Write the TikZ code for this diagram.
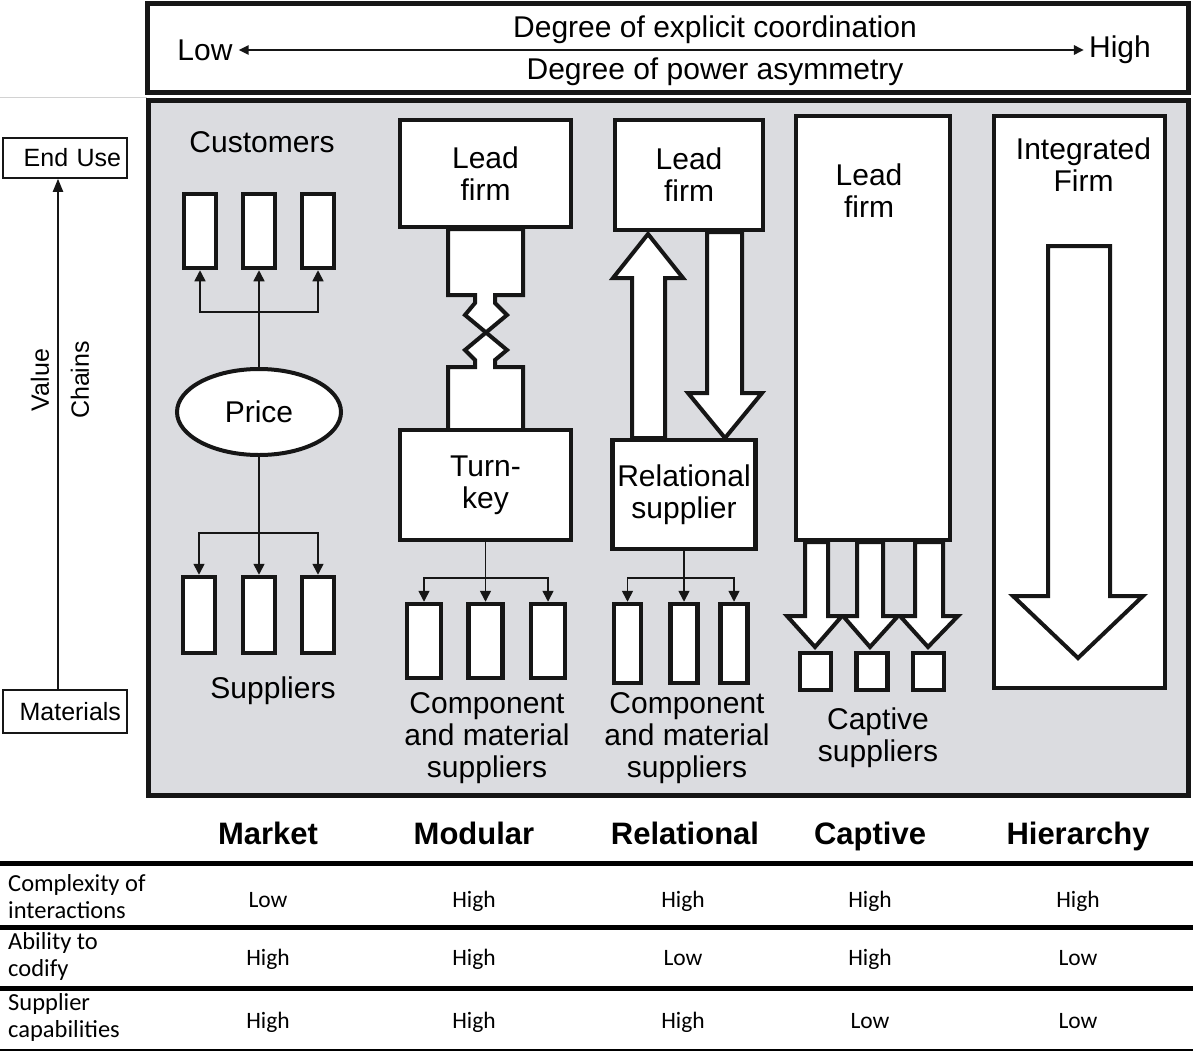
\documentclass[tikz,border=0pt]{standalone}
\usepackage{fontspec}
\setmainfont{Liberation Sans}
\newfontfamily\tablefont{Carlito}
\usetikzlibrary{arrows.meta,positioning,shapes.geometric}
\definecolor{panelgray}{RGB}{219,220,224}
\definecolor{ink}{RGB}{22,22,22}

\begin{document}
\begin{tikzpicture}[x=1pt, y=-1pt, line join=miter,
    firm node/.style={draw=ink, line width=4.5pt, fill=white, inner sep=0pt, align=center, font=\fontsize{30}{32}\selectfont},
    slot node/.style={draw=ink, line width=4.5pt, fill=white, inner sep=0pt},
    word/.style={inner sep=0pt, align=center, font=\fontsize{30}{32}\selectfont},
    side/.style={inner sep=0pt, font=\fontsize{25}{27}\selectfont},
    feed/.style={draw=ink, line width=1.6pt, -{Triangle[length=11pt,width=11pt]}},
    fat arrow/.style={draw=ink, line width=4pt, fill=white},
    head/.style={inner sep=0pt, anchor=base, font=\fontsize{31}{33}\selectfont\bfseries},
    cell/.style={inner sep=0pt, anchor=base, font=\tablefont\fontsize{23.5}{28}\selectfont},
    rowname/.style={inner sep=0pt, anchor=west, align=left, font=\tablefont\fontsize{24.5}{27}\selectfont}]
    \useasboundingbox (0,0) rectangle (1193,1052);

    % frames
    \draw[gray!35, line width=1pt] (0,97) -- (147,97);
    \node[draw=ink, line width=5pt, fill=white, minimum width=1041pt, minimum height=89pt, inner sep=0pt] (banner) at (667.5,47.5) {};
    \node[draw=ink, line width=5pt, fill=panelgray, minimum width=1040pt, minimum height=695pt, inner sep=0pt] (panel) at (668,447.5) {};

    % coordination scale
    \node[word] (low) at (205,50) {Low};
    \node[word] (high) at (1120,50) {High};
    \node[word] (coord) at (715,30) {Degree of explicit coordination};
    \node[word] (power) at (715,72) {Degree of power asymmetry};
    \draw[ink, line width=2.5pt, {Triangle[length=10pt,width=9pt]}-{Triangle[length=10pt,width=9pt]}] ([xshift=6pt]low.east) -- ([xshift=-5pt]high.west);

    % value chain axis
    \node[side, draw=ink, line width=1.5pt, fill=white, minimum width=124pt, minimum height=40pt, text width=112pt, align=right] (enduse) at (65,158) {End Use};
    \node[side, draw=ink, line width=1.5pt, fill=white, minimum width=124pt, minimum height=43pt, text width=112pt, align=right] (materials) at (65,711.5) {Materials};
    \coordinate (axis) at (58,0);
    \draw[ink, line width=2pt, -{Triangle[length=13pt,width=10pt]}] (materials.north -| axis) -- (enduse.south -| axis);
    \node[side, rotate=90] (value) at (40,380) {Value};
    \node[side, rotate=90] (chains) at (80,380) {Chains};

    % market
    \node[word] (cust) at (262,142) {Customers};
    \node[slot node, minimum width=32pt, minimum height=74pt] (c1) at (200,231) {};
    \node[slot node, minimum width=32pt, minimum height=74pt] (c2) at (259,231) {};
    \node[slot node, minimum width=32pt, minimum height=74pt] (c3) at (318,231) {};
    \node[word, ellipse, draw=ink, line width=4pt, fill=white, minimum width=164pt, minimum height=86pt] (price) at (259,412) {Price};
    \node[slot node, minimum width=32pt, minimum height=76pt] (s1) at (199,615) {};
    \node[slot node, minimum width=32pt, minimum height=76pt] (s2) at (259,615) {};
    \node[slot node, minimum width=32pt, minimum height=76pt] (s3) at (318,615) {};
    \node[word] (sup) at (273,691) {Suppliers};
    \coordinate (mtop) at (259,312);
    \coordinate (mbot) at (259,533);
    \draw[feed] (price) -- (c2);
    \draw[feed] (mtop) -| (c1.south);
    \draw[feed] (mtop) -| (c3.south);
    \draw[feed] (price) -- (s2);
    \draw[feed] (mbot) -| (s1.north);
    \draw[feed] (mbot) -| (s3.north);

    % modular
    \draw[fat arrow] (448,229) -- (448,295) -- (475,295) -- (475,303) -- (465,315) -- (507,350)
        -- (495,360) -- (495,367) -- (523,367) -- (523,430) -- (448,430) -- (448,367) -- (475,367)
        -- (475,360) -- (465,350) -- (507,315) -- (495,303) -- (495,295) -- (523,295) -- (523,229) -- cycle;
    \node[firm node, minimum width=171pt, minimum height=107pt] (lead1) at (485.5,173.5) {Lead\\firm};
    \node[firm node, minimum width=171pt, minimum height=110pt] (turn) at (485.5,485) {Turn-\\key};
    \node[slot node, minimum width=34pt, minimum height=74pt] (m1) at (424,641) {};
    \node[slot node, minimum width=34pt, minimum height=74pt] (m2) at (485.5,641) {};
    \node[slot node, minimum width=34pt, minimum height=74pt] (m3) at (548,641) {};
    \coordinate (modfork) at (485.5,578);
    \draw[feed] (turn) -- (m2);
    \draw[feed] (modfork) -| (m1.north);
    \draw[feed] (modfork) -| (m3.north);
    \node[word] (modsup) at (487,738) {Component\\and material\\suppliers};

    % relational
    \draw[fat arrow] (632,438) -- (632,278) -- (613,278) -- (648,234) -- (683,278) -- (665,278) -- (665,438) -- cycle;
    \draw[fat arrow] (707,232) -- (707,393) -- (688,393) -- (725,438) -- (762,393) -- (742,393) -- (742,232) -- cycle;
    \node[firm node, minimum width=148pt, minimum height=110pt] (lead2) at (689,175) {Lead\\firm};
    \node[firm node, minimum width=143pt, minimum height=109pt] (rel) at (684,494.5) {Relational\\supplier};
    \node[slot node, minimum width=27pt, minimum height=79pt] (r1) at (627.5,643.5) {};
    \node[slot node, minimum width=27pt, minimum height=79pt] (r2) at (684,643.5) {};
    \node[slot node, minimum width=27pt, minimum height=79pt] (r3) at (734,643.5) {};
    \coordinate (relfork) at (684,578);
    \draw[feed] (rel) -- (r2);
    \draw[feed] (relfork) -| (r1.north);
    \draw[feed] (relfork) -| (r3.north);
    \node[word] (relsup) at (687,738) {Component\\and material\\suppliers};

    % captive
    \draw[fat arrow] (805,542) -- (805,616) -- (787,616) -- (815,647) -- (842,616) -- (828,616) -- (828,542) -- cycle;
    \draw[fat arrow] (857,542) -- (857,616) -- (843,616) -- (870,647) -- (898,616) -- (883,616) -- (883,542) -- cycle;
    \draw[fat arrow] (915,542) -- (915,616) -- (900,616) -- (928,647) -- (958,616) -- (943,616) -- (943,542) -- cycle;
    \node[slot node, minimum width=154pt, minimum height=424pt] (lead3) at (873,328) {};
    \node[word, below=50pt of lead3.north, xshift=-4pt] (lead3txt) {Lead\\firm};
    \node[slot node, minimum width=31pt, minimum height=37pt] (q1) at (815.5,671.5) {};
    \node[slot node, minimum width=31pt, minimum height=37pt] (q2) at (872,671.5) {};
    \node[slot node, minimum width=31pt, minimum height=37pt] (q3) at (928.5,671.5) {};
    \node[word] (capsup) at (878,738) {Captive\\suppliers};

    % hierarchy
    \node[slot node, minimum width=171pt, minimum height=572pt] (hier) at (1079.5,402) {};
    \node[word, below=24pt of hier.north, xshift=4pt] (hiertxt) {Integrated\\Firm};
    \draw[fat arrow] (1048,246) -- (1048,596) -- (1013,596) -- (1078,658) -- (1143,596) -- (1110,596) -- (1110,246) -- cycle;

    % governance table
    \node[head] (hmarket) at (268,844) {Market};
    \node[head] (hmodular) at (474,844) {Modular};
    \node[head] (hrelational) at (685,844) {Relational};
    \node[head] (hcaptive) at (870,844) {Captive};
    \node[head] (hhierarchy) at (1078,844) {Hierarchy};
    \draw[black, line width=5pt] (0,863) -- (1193,863);
    \draw[black, line width=5pt] (0,927) -- (1193,927);
    \draw[black, line width=5pt] (0,988) -- (1193,988);
    \draw[black, line width=2.5pt] (0,1050) -- (1193,1050);

    \node[rowname] (row1) at (8,897) {Complexity of\\interactions};
    \node[rowname] (row2) at (8,956) {Ability to\\codify};
    \node[rowname] (row3) at (8,1017) {Supplier\\capabilities};

    \node[cell] (v11) at (268,907) {Low};
    \node[cell] (v12) at (474,907) {High};
    \node[cell] (v13) at (683,907) {High};
    \node[cell] (v14) at (870,907) {High};
    \node[cell] (v15) at (1078,907) {High};
    \node[cell] (v21) at (268,965) {High};
    \node[cell] (v22) at (474,965) {High};
    \node[cell] (v23) at (683,965) {Low};
    \node[cell] (v24) at (870,965) {High};
    \node[cell] (v25) at (1078,965) {Low};
    \node[cell] (v31) at (268,1028) {High};
    \node[cell] (v32) at (474,1028) {High};
    \node[cell] (v33) at (683,1028) {High};
    \node[cell] (v34) at (870,1028) {Low};
    \node[cell] (v35) at (1078,1028) {Low};
\end{tikzpicture}
\end{document}
